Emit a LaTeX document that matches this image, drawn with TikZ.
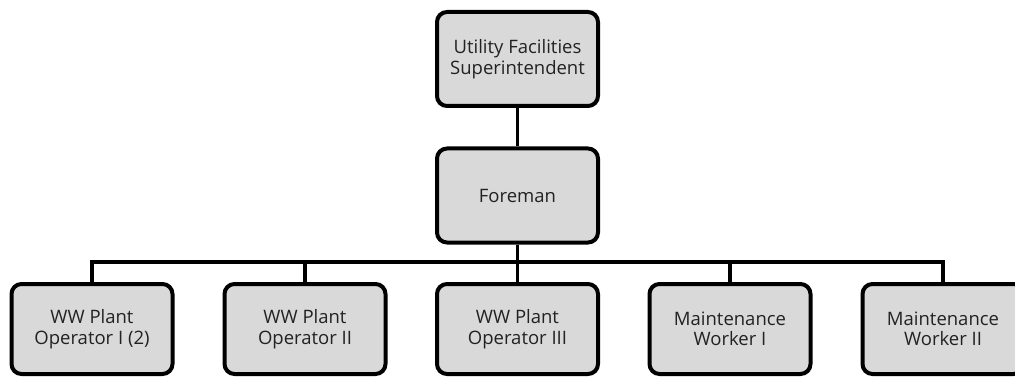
\documentclass[tikz,border=0pt]{standalone}
\usepackage{fontspec}
\setmainfont{Open Sans}
\definecolor{boxfill}{HTML}{D9D9D9}
\definecolor{txt}{HTML}{222222}
\begin{document}
\begin{tikzpicture}[x=1pt,y=-1pt,
  orgbox/.style={draw=black, line width=4pt, fill=boxfill, rounded corners=10pt,
    minimum width=161pt, align=center, text=txt, font=\fontsize{18.5}{20.5}\selectfont,
    inner sep=0pt},
  topbox/.style={orgbox, minimum height=94pt},
  lowbox/.style={orgbox, minimum height=90pt},
  link/.style={line width=3.6pt}]
  \useasboundingbox (0,0) rectangle (1015,377);
  \clip (0,0) rectangle (1015,377);
  % managers
  \node[topbox] (sup) at (517.5,59) {Utility Facilities\\Superintendent};
  \node[topbox] (fore) at (517.5,195.5) {Foreman};
  % staff row
  \node[lowbox] (op1) at (92,329) {WW Plant\\Operator I (2)};
  \node[lowbox] (op2) at (305,329) {WW Plant\\Operator II};
  \node[lowbox] (op3) at (517.5,329) {WW Plant\\Operator III};
  \node[lowbox] (mw1) at (730,329) {Maintenance\\Worker I};
  \node[lowbox] (mw2) at (943,329) {Maintenance\\Worker II};
  % connectors
  \coordinate (bus) at (517.5,262);
  \draw[link] (sup.south) -- (fore.north);
  \draw[link] (fore.south) -- (op3.north);
  \draw[link, line join=miter] (op1.north) |- (bus) -| (mw2.north);
  \draw[link] (op2.north) -- (op2.north |- bus);
  \draw[link] (mw1.north) -- (mw1.north |- bus);
\end{tikzpicture}
\end{document}
